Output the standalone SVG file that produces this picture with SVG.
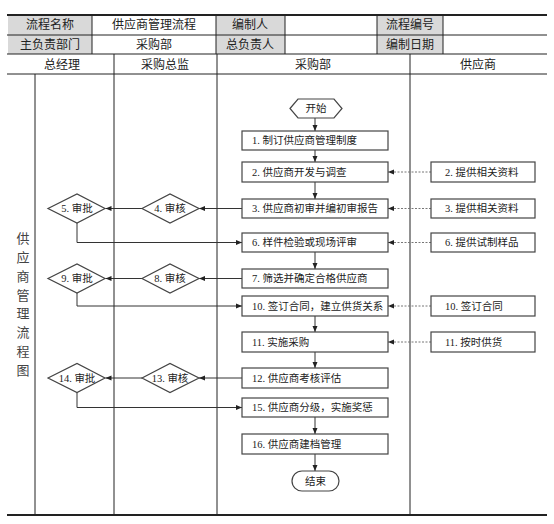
<svg xmlns="http://www.w3.org/2000/svg" width="554" height="524" viewBox="0 0 554 524">
<style>
text{font-family:"Liberation Serif","Noto Sans CJK SC",serif;fill:#222}
.h{font-size:12px;text-anchor:middle;dominant-baseline:central}
.t{font-size:10.5px;dominant-baseline:central}
.c{font-size:10.5px;text-anchor:middle;dominant-baseline:central}
.box{fill:#fff;stroke:#444;stroke-width:1.2}
.gray{fill:#d9d9d9;stroke:none}
.ln{stroke:#222;stroke-width:1;fill:none}
.ar{stroke:#333;stroke-width:1;fill:none;marker-end:url(#a)}
.dt{stroke:#777;stroke-width:1;stroke-dasharray:2 1.5;fill:none;marker-end:url(#a)}
</style>
<defs>
<marker id="a" markerWidth="7" markerHeight="6" refX="6" refY="3" orient="auto" markerUnits="userSpaceOnUse">
<path d="M0,0.5 L6,3 L0,5.5 Z" fill="#222"/>
</marker>
</defs>
<rect width="554" height="524" fill="#fff"/>
<g id="table">
<rect class="gray" x="8" y="16" width="84" height="38"/>
<rect class="gray" x="216" y="16" width="69" height="38"/>
<rect class="gray" x="377" y="16" width="66" height="38"/>
<line x1="7" y1="15" x2="547" y2="15" stroke="#222" stroke-width="2"/>
<line class="ln" x1="7" y1="35" x2="547" y2="35"/>
<line x1="7" y1="54" x2="547" y2="54" stroke="#222" stroke-width="1.2"/>
<line class="ln" x1="7" y1="74" x2="547" y2="74"/>
<line x1="7" y1="515" x2="547" y2="515" stroke="#222" stroke-width="2"/>
<line class="ln" x1="92" y1="15" x2="92" y2="54"/>
<line class="ln" x1="216" y1="15" x2="216" y2="54"/>
<line class="ln" x1="285" y1="15" x2="285" y2="54"/>
<line class="ln" x1="377" y1="15" x2="377" y2="54"/>
<line class="ln" x1="443" y1="15" x2="443" y2="54"/>
<line class="ln" x1="114" y1="54" x2="114" y2="515"/>
<line class="ln" x1="217" y1="54" x2="217" y2="515"/>
<line class="ln" x1="410" y1="54" x2="410" y2="515"/>
<line class="ln" x1="35" y1="74" x2="35" y2="515"/>
<text class="h" x="50" y="25">流程名称</text>
<text class="h" x="154" y="25">供应商管理流程</text>
<text class="h" x="250" y="25">编制人</text>
<text class="h" x="410" y="25">流程编号</text>
<text class="h" x="50" y="45">主负责部门</text>
<text class="h" x="154" y="45">采购部</text>
<text class="h" x="250" y="45">总负责人</text>
<text class="h" x="410" y="45">编制日期</text>
<text class="h" x="62" y="65">总经理</text>
<text class="h" x="165" y="65">采购总监</text>
<text class="h" x="313" y="65">采购部</text>
<text class="h" x="478" y="65">供应商</text>
<text style="font-size:13px;fill:#444" text-anchor="middle" dominant-baseline="central"><tspan x="23" y="238">供</tspan><tspan x="23" y="257">应</tspan><tspan x="23" y="276">商</tspan><tspan x="23" y="295">管</tspan><tspan x="23" y="313">理</tspan><tspan x="23" y="332">流</tspan><tspan x="23" y="351">程</tspan><tspan x="23" y="370">图</tspan></text>
</g>
<g id="connectors">
<line class="ar" x1="315" y1="118" x2="315" y2="131"/>
<line class="ar" x1="315" y1="150" x2="315" y2="162"/>
<line class="ar" x1="315" y1="182" x2="315" y2="199"/>
<line class="ar" x1="315" y1="252" x2="315" y2="269"/>
<line class="ar" x1="315" y1="316" x2="315" y2="332"/>
<line class="ar" x1="315" y1="352" x2="315" y2="368"/>
<line class="ar" x1="315" y1="417" x2="315" y2="434"/>
<line class="ar" x1="315" y1="454" x2="315" y2="471"/>
<line class="ar" x1="242" y1="208.5" x2="199" y2="208.5"/>
<line class="ar" x1="142" y1="208.5" x2="105.5" y2="208.5"/>
<polyline class="ar" points="77,223 77,242.5 242,242.5"/>
<line class="ar" x1="242" y1="278.5" x2="199" y2="278.5"/>
<line class="ar" x1="142" y1="278.5" x2="105.5" y2="278.5"/>
<polyline class="ar" points="77,293 77,306 242,306"/>
<line class="ar" x1="242" y1="378" x2="199" y2="378"/>
<line class="ar" x1="142" y1="378" x2="105.5" y2="378"/>
<polyline class="ar" points="77,392.5 77,407.5 242,407.5"/>
<line class="dt" x1="431" y1="172" x2="388" y2="172"/>
<line class="dt" x1="431" y1="208.5" x2="388" y2="208.5"/>
<line class="dt" x1="431" y1="242.5" x2="388" y2="242.5"/>
<line class="dt" x1="431" y1="306" x2="388" y2="306"/>
<line class="dt" x1="431" y1="342" x2="388" y2="342"/>
</g>
<g id="start"><polygon class="box" points="290,108.5 298,99 334,99 342,108.5 334,118 298,118"/><text class="c" x="316" y="108.5">开始</text></g>
<g id="n1"><rect class="box" x="242" y="131" width="146" height="19"/><text class="t" x="252" y="140.5">1. 制订供应商管理制度</text></g>
<g id="n2"><rect class="box" x="242" y="162" width="146" height="20"/><text class="t" x="252" y="172">2. 供应商开发与调查</text></g>
<g id="n3"><rect class="box" x="242" y="199" width="146" height="19"/><text class="t" x="252" y="208.5">3. 供应商初审并编初审报告</text></g>
<g id="n4"><polygon class="box" points="142,208.5 170,194 199,208.5 170,223"/><text class="c" x="170" y="208.5">4. 审核</text></g>
<g id="n5"><polygon class="box" points="48,208.5 77,194 105,208.5 77,223"/><text class="c" x="77" y="208.5">5. 审批</text></g>
<g id="n6"><rect class="box" x="242" y="233" width="146" height="19"/><text class="t" x="252" y="242.5">6. 样件检验或现场评审</text></g>
<g id="n7"><rect class="box" x="242" y="269" width="146" height="19"/><text class="t" x="252" y="278.5">7. 筛选并确定合格供应商</text></g>
<g id="n8"><polygon class="box" points="142,278.5 170,264 199,278.5 170,293"/><text class="c" x="170" y="278.5">8. 审核</text></g>
<g id="n9"><polygon class="box" points="48,278.5 77,264 105,278.5 77,293"/><text class="c" x="77" y="278.5">9. 审批</text></g>
<g id="n10"><rect class="box" x="242" y="296" width="146" height="20"/><text class="t" x="252" y="306">10. 签订合同，建立供货关系</text></g>
<g id="n11"><rect class="box" x="242" y="332" width="146" height="20"/><text class="t" x="252" y="342">11. 实施采购</text></g>
<g id="n12"><rect class="box" x="242" y="368" width="146" height="20"/><text class="t" x="252" y="378">12. 供应商考核评估</text></g>
<g id="n13"><polygon class="box" points="142,378 170,363.5 199,378 170,392.5"/><text class="c" x="170" y="378">13. 审核</text></g>
<g id="n14"><polygon class="box" points="48,378 77,363.5 105,378 77,392.5"/><text class="c" x="77" y="378">14. 审批</text></g>
<g id="n15"><rect class="box" x="242" y="398" width="146" height="19"/><text class="t" x="252" y="407.5">15. 供应商分级，实施奖惩</text></g>
<g id="n16"><rect class="box" x="242" y="434" width="146" height="20"/><text class="t" x="252" y="444">16. 供应商建档管理</text></g>
<g id="end"><rect class="box" x="292" y="471" width="47" height="20" rx="10" ry="10"/><text class="c" x="315.5" y="481">结束</text></g>
<g id="s2"><rect class="box" x="431" y="162" width="104" height="20"/><text class="t" x="445" y="172">2. 提供相关资料</text></g>
<g id="s3"><rect class="box" x="431" y="199" width="104" height="19"/><text class="t" x="445" y="208.5">3. 提供相关资料</text></g>
<g id="s6"><rect class="box" x="431" y="233" width="104" height="19"/><text class="t" x="445" y="242.5">6. 提供试制样品</text></g>
<g id="s10"><rect class="box" x="431" y="296" width="104" height="20"/><text class="t" x="445" y="306">10. 签订合同</text></g>
<g id="s11"><rect class="box" x="431" y="332" width="104" height="20"/><text class="t" x="445" y="342">11. 按时供货</text></g>
</svg>
